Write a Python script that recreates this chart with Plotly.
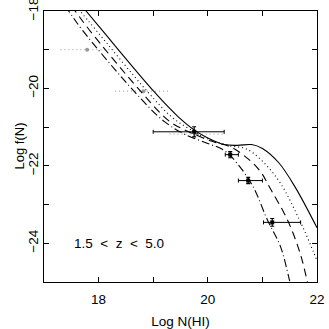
import plotly.graph_objects as go

# Model curves (log N(HI), log f(N))
solid_x = [17.70, 17.77, 18.06, 19.02, 19.45, 19.75, 20.0, 20.3, 20.55, 20.8, 21.0, 21.3, 21.6, 22.0]
solid_y = [-17.88, -18.0, -18.49, -20.09, -20.72, -21.07, -21.28, -21.45, -21.47, -21.45, -21.55, -21.92, -22.55, -23.6]

dot_x = [17.59, 17.66, 17.95, 18.9, 19.35, 19.75, 20.0, 20.4, 20.7, 21.0, 21.33, 21.7, 21.94, 22.0]
dot_y = [-17.88, -18.0, -18.49, -20.09, -20.75, -21.12, -21.3, -21.48, -21.56, -21.88, -22.45, -23.46, -24.24, -24.45]

dash_x = [17.50, 17.57, 17.83, 18.78, 19.3, 19.7, 20.1, 20.4, 20.65, 20.95, 21.15, 21.46, 21.7, 21.83]
dash_y = [-17.88, -18.0, -18.49, -20.09, -20.85, -21.15, -21.38, -21.5, -21.72, -22.12, -22.6, -23.4, -24.3, -25.05]

dd_x = [17.38, 17.45, 17.70, 18.66, 19.2, 19.6, 20.0, 20.3, 20.54, 20.83, 21.09, 21.33, 21.48, 21.52]
dd_y = [-17.88, -18.0, -18.49, -20.09, -20.85, -21.2, -21.42, -21.6, -21.94, -22.54, -23.39, -24.08, -24.86, -25.1]

# Grey (dotted) data
grey_x = [17.79, 18.82, 19.80]
grey_y = [-19.0, -20.07, -21.18]
grey_xlo = [17.30, 18.30, 19.30]
grey_xhi = [18.32, 19.31, 20.30]

# Black data
blk_x = [19.75, 20.41, 20.74, 21.18]
blk_y = [-21.12, -21.71, -22.38, -23.46]
blk_xlo = [19.00, 20.32, 20.56, 21.02]
blk_xhi = [20.30, 20.56, 21.00, 21.70]
blk_yerr = [0.13, 0.08, 0.08, 0.10]

fig = go.Figure()

# grey dotted error bars
for xc, yc, lo, hi in zip(grey_x, grey_y, grey_xlo, grey_xhi):
    fig.add_trace(go.Scatter(x=[lo, hi], y=[yc, yc], mode="lines",
                             line=dict(color="#aaaaaa", width=1.2, dash="1px,3px"),
                             showlegend=False, hoverinfo="skip"))
fig.add_trace(go.Scatter(x=grey_x, y=grey_y, mode="markers",
                         marker=dict(color="#999999", size=4), showlegend=False))

line_specs = [
    (solid_x, solid_y, "solid"),
    (dot_x, dot_y, "1px,3px"),
    (dash_x, dash_y, "8px,5px"),
    (dd_x, dd_y, "8px,3px,1px,3px"),
]
for xs, ys, d in line_specs:
    fig.add_trace(go.Scatter(x=xs, y=ys, mode="lines", line_shape="spline",
                             line=dict(color="black", width=1.1, dash=d),
                             showlegend=False))

fig.add_trace(go.Scatter(
    x=blk_x, y=blk_y, mode="markers",
    marker=dict(color="black", size=4, symbol="square"),
    error_x=dict(type="data", symmetric=False,
                 array=[h - c for h, c in zip(blk_xhi, blk_x)],
                 arrayminus=[c - l for c, l in zip(blk_x, blk_xlo)],
                 color="black", thickness=1, width=2),
    error_y=dict(type="data", array=blk_yerr, color="black", thickness=1.2, width=2),
    showlegend=False))

fig.add_annotation(x=17.52, y=-24.0, xref="x", yref="y", xanchor="left", yanchor="middle",
                   text="1.5  &lt;  z  &lt;  5.0", showarrow=False,
                   font=dict(family="Liberation Sans, Arial", size=13.5, color="black"))

# y-axis title placed as an annotation for precise position
fig.add_annotation(x=0, y=0.5, xref="paper", yref="paper", xanchor="center", yanchor="middle",
                   xshift=-25, textangle=-90, text="Log f(N)", showarrow=False,
                   font=dict(family="Liberation Sans, Arial", size=13, color="black"))

xt = [17, 18, 19, 20, 21, 22]
xl = ["", "18", "", "20", "", "22"]
yt = [-25, -24, -23, -22, -21, -20, -19, -18]
yl = ["", "\u221224", "", "\u221222", "", "\u221220", "", "\u221218"]

fig.update_layout(
    width=329, height=329,
    margin=dict(l=44, r=12, t=11, b=47),
    paper_bgcolor="white", plot_bgcolor="white",
    font=dict(family="Liberation Sans, Arial", size=13, color="black"),
    xaxis=dict(range=[17, 22], tickvals=xt, ticktext=xl, ticks="inside", ticklen=5,
               tickcolor="black", showline=True, linecolor="black", linewidth=1,
               mirror="ticks", showgrid=False, zeroline=False, automargin=False,
               ticklabelstandoff=5, ticklabeloverflow="allow",
               title=dict(text="Log N(HI)", standoff=12, font=dict(size=13.5)),
               tickfont=dict(size=13.5)),
    yaxis=dict(range=[-25, -18], tickvals=yt, ticktext=yl, ticks="inside", ticklen=5,
               tickcolor="black", showline=True, linecolor="black", linewidth=1,
               mirror="ticks", showgrid=False, zeroline=False, tickangle=-90,
               automargin=False,
               ticklabelstandoff=0, ticklabeloverflow="allow",
               tickfont=dict(size=13.5)),
)

fig.write_html("out.html")
